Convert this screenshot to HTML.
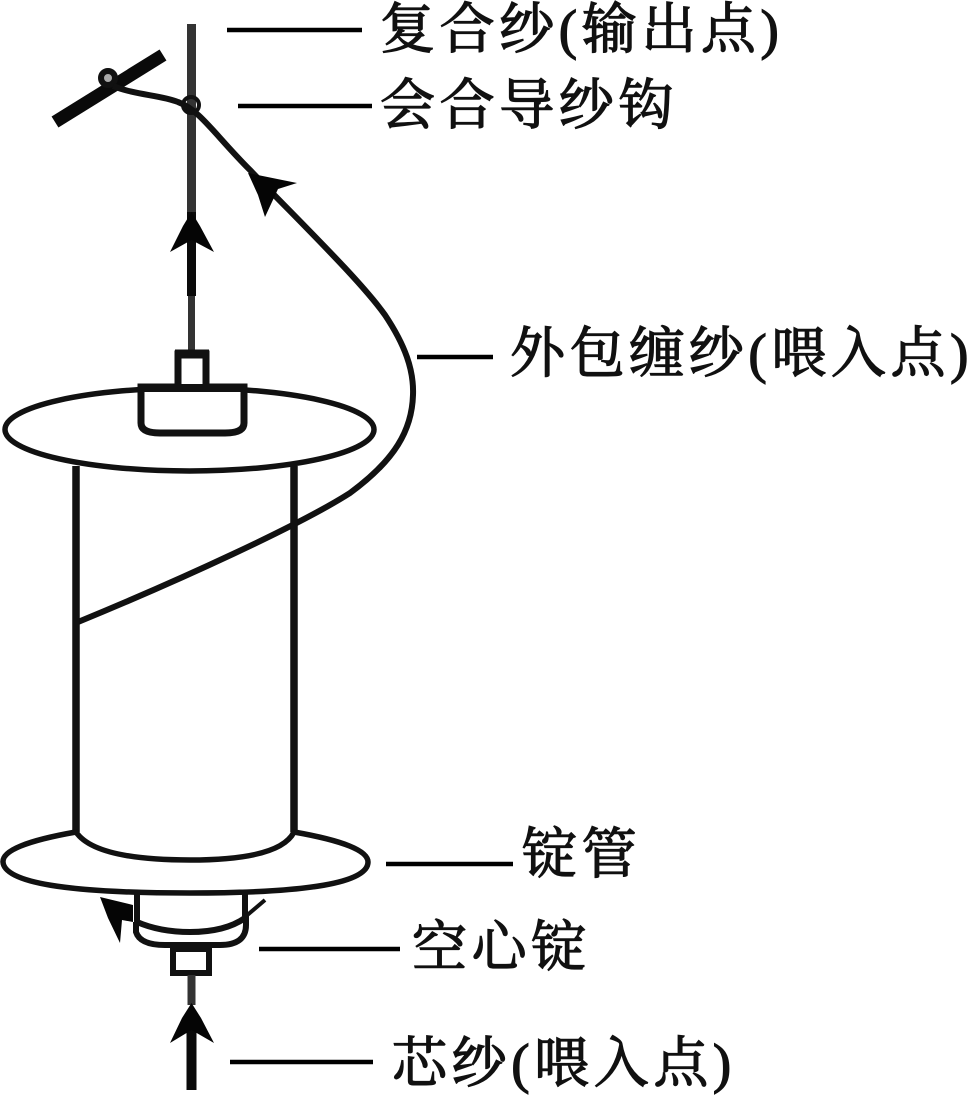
<!DOCTYPE html>
<html><head><meta charset="utf-8"><style>
html,body{margin:0;padding:0;background:#fff}
svg{display:block}
text{font-family:"Liberation Serif","Noto Serif CJK SC",serif;font-size:55px;letter-spacing:4.600px;fill:#111;stroke:#111;stroke-width:1.300px}
</style></head><body>
<svg width="968" height="1097" viewBox="0 0 968 1097" xmlns="http://www.w3.org/2000/svg">
<rect width="968" height="1097" fill="#fff"/>
<g fill="none" stroke="#111" stroke-linecap="butt">
<!-- vertical yarn top -->
<path d="M191.500 24V212" stroke="#333" stroke-width="9"/>
<path d="M191.500 212V296" stroke="#0a0a0a" stroke-width="9"/>
<path d="M191.500 296V352" stroke="#333" stroke-width="7"/>
<!-- guide bar -->
<path d="M55 122L163 55" stroke="#0a0a0a" stroke-width="13"/>
<circle cx="108" cy="78" r="7" stroke-width="6" fill="#aaa"/>
<circle cx="191" cy="105" r="8" stroke-width="4"/>
<!-- wrapping yarn -->
<path d="M113 86C135 95 160 95 178 102C200 110 215 135 250 170C300 222 360 280 385 315C405 345 414 370 413 395C412 430 395 460 350 493C300 525 180 580 78 622" stroke-width="6"/>
<!-- top flange -->
<ellipse cx="189.500" cy="429.500" rx="184.500" ry="41.500" stroke-width="5.500"/>
<path d="M141 387H244V423Q244 433 225 433H160Q141 433 141 423Z" fill="#fff" stroke-width="7"/>
<path d="M178 385V354H206V385" fill="#fff" stroke-width="7"/>
<path d="M175 354H209" stroke-width="9"/>
<path d="M141 388H244" stroke-width="8"/>
<!-- tube -->
<path d="M76 466V832M294 466V832" stroke-width="7.500"/>
<!-- bottom flange -->
<path d="M76 832Q2 845 3 862Q5 893 190 893Q368 893 368 862Q368 845 294 832Q280 860 190 860Q95 860 76 832Z" stroke-width="5.500"/>
<!-- spindle -->
<path d="M137 893V922Q160 932 190 932Q225 932 245 918V893" stroke-width="6"/>
<path d="M136 922V932Q140 945 165 945H220Q246 945 246 925V915" stroke-width="6"/>
<path d="M173 949H209V973H173Z" stroke-width="6"/>
<path d="M245 917L265 900" stroke-width="4"/>
<!-- lower yarn -->
<path d="M191.500 975V1005" stroke="#333" stroke-width="8"/>
<path d="M191.500 1030V1090" stroke="#0a0a0a" stroke-width="10"/>
<!-- leader lines -->
<g stroke="#000" stroke-width="4.500">
<path d="M227 30H362M238 106H372M417 357H493M386 864H513M259 949H400M230 1062H373"/>
</g>
</g>
<g fill="#050505">
<path d="M191.500 212L200 226L214 252L191.500 240L170 252L183 226Z"/>
<path d="M191.500 1003L201 1018L214 1043L191.500 1030L170 1043L182 1018Z"/>
<path d="M248 173L297 183L278 189L265 217L258 195Z"/>
<path d="M100 897L133 905L133 922L122 920L120 943L108 918Z"/>
</g>
<text x="380" y="48">复合纱(输出点)</text>
<text x="380" y="124">会合导纱钩</text>
<text x="510" y="372">外包缠纱(喂入点)</text>
<text x="522" y="873">锭管</text>
<text x="412" y="966">空心锭</text>
<text x="392" y="1082">芯纱(喂入点)</text>
</svg>
</body></html>
